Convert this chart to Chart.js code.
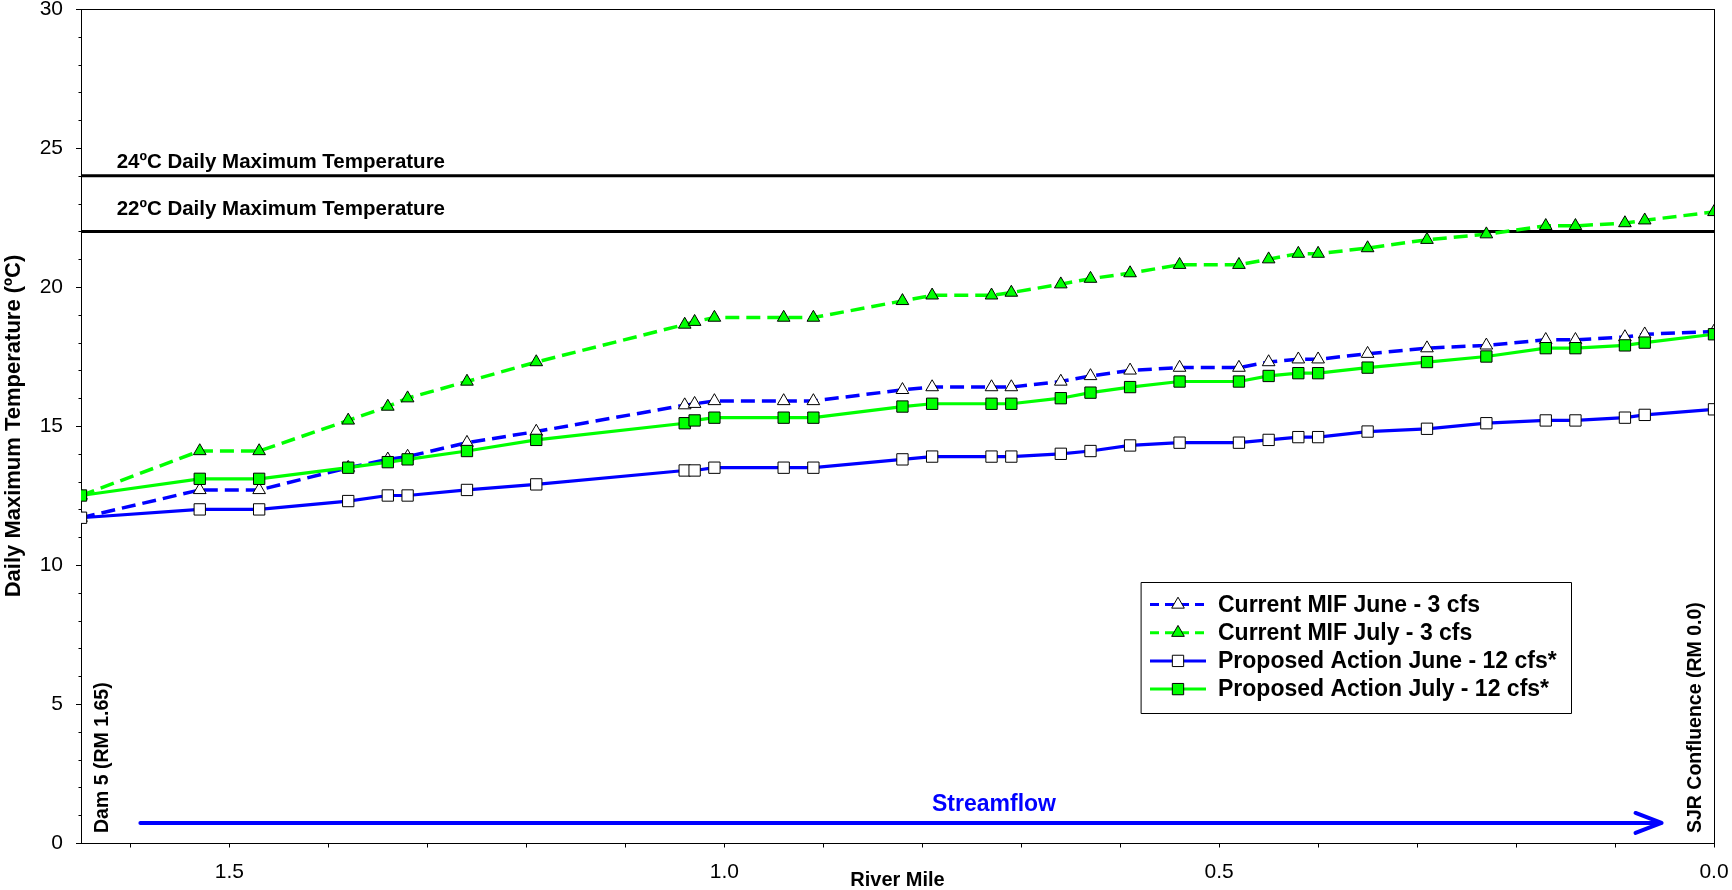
<!DOCTYPE html>
<html><head><meta charset="utf-8">
<script src="https://cdn.jsdelivr.net/npm/chart.js@4.4.0/dist/chart.umd.min.js"></script>
<style>html,body{margin:0;padding:0;background:#fff;overflow:hidden}#wrap{width:1732px;height:890px}</style>
</head><body><div id="wrap"><canvas id="c" width="1732" height="890"></canvas></div>
<script>
// ---------- data ----------
const riverMile    = [1.65,1.53,1.47,1.38,1.34,1.32,1.26,1.19,1.04,1.03,1.01,0.94,0.91,0.82,0.79,0.73,0.71,0.66,0.63,0.59,0.54,0.48,0.45,0.42,0.40,0.35,0.29,0.23,0.17,0.14,0.09,0.07,0.00];
const currentJune  = [11.7,12.7,12.7,13.5,13.8,13.9,14.4,14.8,15.75,15.8,15.9,15.9,15.9,16.3,16.4,16.4,16.4,16.6,16.8,17.0,17.1,17.1,17.3,17.4,17.4,17.6,17.8,17.9,18.1,18.1,18.2,18.3,18.4];
const currentJuly  = [12.5,14.1,14.1,15.2,15.7,16.0,16.6,17.3,18.65,18.75,18.9,18.9,18.9,19.5,19.7,19.7,19.8,20.1,20.3,20.5,20.8,20.8,21.0,21.2,21.2,21.4,21.7,21.9,22.2,22.2,22.3,22.4,22.7];
const proposedJune = [11.7,12.0,12.0,12.3,12.5,12.5,12.7,12.9,13.4,13.4,13.5,13.5,13.5,13.8,13.9,13.9,13.9,14.0,14.1,14.3,14.4,14.4,14.5,14.6,14.6,14.8,14.9,15.1,15.2,15.2,15.3,15.4,15.6];
const proposedJuly = [12.5,13.1,13.1,13.5,13.7,13.8,14.1,14.5,15.1,15.2,15.3,15.3,15.3,15.7,15.8,15.8,15.8,16.0,16.2,16.4,16.6,16.6,16.8,16.9,16.9,17.1,17.3,17.5,17.8,17.8,17.9,18.0,18.3];
const seriesLabels = ['Current MIF June - 3 cfs','Current MIF July - 3 cfs','Proposed Action June - 12 cfs*','Proposed Action July - 12 cfs*'];
const refLevels    = [24, 22];
const refLabels    = ['24ºC Daily Maximum Temperature','22ºC Daily Maximum Temperature'];
const refLabelY    = [24.47, 22.8];
const xTickValues  = [1.5, 1.0, 0.5, 0.0];
const yTickValues  = [0, 5, 10, 15, 20, 25, 30];
const xRange       = [0, 1.65];
const yRange       = [0, 30];
const arrowFrom    = 1.59, arrowTo = 0.053, arrowLevel = 0.72;
const damLabel     = 'Dam 5 (RM 1.65)';
const sjrLabel     = 'SJR Confluence (RM 0.0)';
const flowLabel    = 'Streamflow';
// ---------- end data ----------

const FONT = "'Liberation Sans', Arial, Helvetica, sans-serif";
const BLUE = '#0000ff', GREEN = '#00ff00';
const pts = arr => riverMile.map((x, i) => ({x, y: arr[i]}));

const series = [
  {label: seriesLabels[0], data: pts(currentJune),  borderColor: BLUE,  borderDash: [14,7], borderWidth: 3.5, pointStyle: 'triangle', pointRadius: 7.3, pointBackgroundColor: '#ffffff', order: 4},
  {label: seriesLabels[1], data: pts(currentJuly),  borderColor: GREEN, borderDash: [14,7], borderWidth: 3.5, pointStyle: 'triangle', pointRadius: 7.3, pointBackgroundColor: GREEN,     order: 3},
  {label: seriesLabels[2], data: pts(proposedJune), borderColor: BLUE,  borderDash: [],     borderWidth: 3.2, pointStyle: 'rect',     pointRadius: 8,   pointBackgroundColor: '#ffffff', order: 2},
  {label: seriesLabels[3], data: pts(proposedJuly), borderColor: GREEN, borderDash: [],     borderWidth: 3.2, pointStyle: 'rect',     pointRadius: 8,   pointBackgroundColor: GREEN,     order: 1},
].map(d => Object.assign({pointBorderColor: '#000', pointBorderWidth: 1, pointHoverRadius: d.pointRadius, tension: 0, fill: false}, d));

const refSets = refLevels.map((v, i) => ({
  label: refLabels[i], data: [{x: xRange[1], y: v}, {x: xRange[0], y: v}],
  borderColor: '#000', borderWidth: 3, pointRadius: 0, order: 10, fill: false
}));

const decor = {
  id: 'decor',
  beforeDatasetsDraw(chart) {
    const {ctx, chartArea: a, scales: {x, y}} = chart;
    ctx.save();
    ctx.strokeStyle = '#000'; ctx.lineWidth = 1;
    ctx.strokeRect(Math.round(a.left) + 0.5, Math.round(a.top) + 0.5, Math.round(a.right - a.left), Math.round(a.bottom - a.top));
    ctx.beginPath();
    for (let v = yRange[0]; v <= yRange[1]; v++) {
      const py = Math.round(y.getPixelForValue(v)) + 0.5;
      const len = v % 5 === 0 ? 5 : 2.5;
      ctx.moveTo(a.left - len, py); ctx.lineTo(a.left, py);
    }
    for (let k = 0; k <= 16; k++) {
      const px = Math.round(x.getPixelForValue(k / 10)) + 0.5;
      ctx.moveTo(px, a.bottom); ctx.lineTo(px, a.bottom + 4.5);
    }
    ctx.stroke();
    ctx.restore();
  },
  afterDraw(chart) {
    const {ctx, chartArea: a, scales: {x, y}} = chart;
    ctx.save();
    // reference line labels
    ctx.fillStyle = '#000';
    ctx.font = `bold 20.5px ${FONT}`;
    ctx.textAlign = 'left'; ctx.textBaseline = 'middle';
    refLabels.forEach((t, i) => ctx.fillText(t, x.getPixelForValue(1.614), y.getPixelForValue(refLabelY[i])));
    // vertical end labels
    const vText = (t, px) => {
      ctx.save();
      ctx.translate(px, a.bottom - 10);
      ctx.rotate(-Math.PI / 2);
      ctx.textAlign = 'left'; ctx.textBaseline = 'middle';
      ctx.font = `bold 19.5px ${FONT}`;
      ctx.fillText(t, 0, 0);
      ctx.restore();
    };
    vText(damLabel, a.left + 22);
    vText(sjrLabel, a.right - 18);
    // streamflow arrow
    const ay = y.getPixelForValue(arrowLevel);
    const x0 = x.getPixelForValue(arrowFrom), x1 = x.getPixelForValue(arrowTo);
    ctx.strokeStyle = BLUE; ctx.lineWidth = 4; ctx.lineCap = 'round'; ctx.lineJoin = 'round';
    ctx.beginPath();
    ctx.moveTo(x0, ay); ctx.lineTo(x1, ay);
    ctx.moveTo(x1 - 26, ay - 10); ctx.lineTo(x1, ay); ctx.lineTo(x1 - 26, ay + 10);
    ctx.stroke();
    ctx.fillStyle = BLUE;
    ctx.font = `bold 23px ${FONT}`;
    ctx.textAlign = 'center'; ctx.textBaseline = 'middle';
    ctx.fillText(flowLabel, 994, ay - 18);
    // legend
    const L = {x: 1141.5, y: 582.5, w: 430, h: 131};
    ctx.fillStyle = '#fff';
    ctx.fillRect(L.x, L.y, L.w, L.h);
    ctx.strokeStyle = '#000'; ctx.lineWidth = 1; ctx.setLineDash([]);
    ctx.strokeRect(L.x, L.y, L.w, L.h);
    series.forEach((d, i) => {
      const ry = 604.5 + 28.2 * i;
      ctx.save();
      ctx.strokeStyle = d.borderColor; ctx.lineWidth = 3; ctx.lineCap = 'butt';
      ctx.setLineDash(d.borderDash.length ? [9, 6] : []);
      ctx.beginPath(); ctx.moveTo(1150, ry); ctx.lineTo(1206, ry); ctx.stroke();
      ctx.setLineDash([]);
      ctx.fillStyle = d.pointBackgroundColor; ctx.strokeStyle = '#000'; ctx.lineWidth = 1;
      Chart.helpers.drawPoint(ctx, {pointStyle: d.pointStyle, radius: d.pointRadius, borderWidth: 1, rotation: 0}, 1178, ry);
      ctx.restore();
      ctx.fillStyle = '#000';
      ctx.font = `bold 23px ${FONT}`;
      ctx.textAlign = 'left'; ctx.textBaseline = 'middle';
      ctx.fillText(d.label, 1218, ry + 1);
    });
    ctx.restore();
  }
};

new Chart(document.getElementById('c'), {
  type: 'line',
  data: {datasets: [...series, ...refSets]},
  options: {
    responsive: false, animation: false, devicePixelRatio: 1,
    layout: {padding: {left: 0, right: 18, top: 9, bottom: 0}},
    plugins: {legend: {display: false}, tooltip: {enabled: false}},
    events: [],
    scales: {
      x: {
        type: 'linear', reverse: true, min: xRange[0], max: xRange[1],
        afterBuildTicks: s => { s.ticks = xTickValues.map(v => ({value: v})); },
        afterFit: s => { s.height = 47; s.paddingLeft = 0; s.paddingRight = 0; },
        grid: {display: false, drawTicks: false}, border: {display: false},
        ticks: {padding: 18.5, color: '#000', autoSkip: false, maxRotation: 0,
                font: {family: FONT, size: 21, lineHeight: 1}, callback: v => Number(v).toFixed(1)},
        title: {display: true, text: 'River Mile', color: '#000', padding: {top: 0, bottom: 0},
                font: {family: FONT, size: 20, weight: 'bold', lineHeight: 1}}
      },
      y: {
        min: yRange[0], max: yRange[1],
        afterBuildTicks: s => { s.ticks = yTickValues.map(v => ({value: v})); },
        afterFit: s => { s.width = 81; s.paddingTop = 0; s.paddingBottom = 0; },
        grid: {display: false, drawTicks: false}, border: {display: false},
        ticks: {padding: 18, color: '#000', font: {family: FONT, size: 21, lineHeight: 1}},
        title: {display: true, text: 'Daily Maximum Temperature (ºC)', color: '#000', padding: {top: 3, bottom: 0},
                font: {family: FONT, size: 22, weight: 'bold', lineHeight: 1}}
      }
    }
  },
  plugins: [decor]
});
</script></body></html>
